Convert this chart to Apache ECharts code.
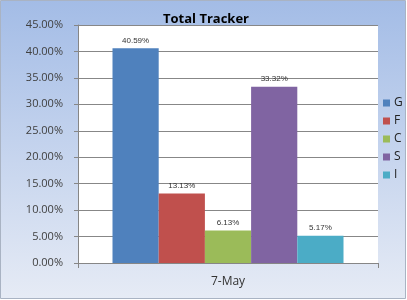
<!DOCTYPE html>
<html><head><meta charset="utf-8">
<script src="https://cdn.jsdelivr.net/npm/echarts@6/dist/echarts.min.js"></script>
<style>html,body{margin:0;padding:0;}#c{width:407px;height:300px;}</style>
</head><body><div id="c"></div>
<script>
const categories = ['7-May'];
const seriesNames = ['G', 'F', 'C', 'S', 'I'];
const seriesValues = [40.59, 13.13, 6.13, 33.32, 5.17];
const seriesColors = ['#4F81BD', '#C0504D', '#9BBB59', '#8064A2', '#4BACC6'];
const yTicks = { min: 0, max: 45, interval: 5 };

const chart = echarts.init(document.getElementById('c'), null, { renderer: 'canvas' });
const series = seriesNames.map((n, i) => ({
  name: n,
  type: 'bar',
  data: [seriesValues[i]],
  barGap: '0%',
  barCategoryGap: '23%',
  itemStyle: { color: seriesColors[i] },
  label: {
    show: true, position: 'top', distance: 4,
    formatter: p => p.value.toFixed(2) + '%',
    fontFamily: 'Liberation Sans', fontSize: 8, color: '#333'
  }
}));
chart.setOption({
  animation: false,
  graphic: [{
    type: 'rect', z: -10, silent: true,
    shape: { x: 0.5, y: 0.5, width: 405, height: 298 },
    style: {
      fill: new echarts.graphic.LinearGradient(0, 0, 0, 1, [
        { offset: 0, color: '#a3bce6' },
        { offset: 1, color: '#e6ebf5' }
      ]),
      stroke: '#a9b3c3', lineWidth: 1
    }
  }],
  title: {
    text: 'Total Tracker', left: 201, textAlign: 'center', top: 8,
    textStyle: { fontFamily: 'Open Sans', fontWeight: 'bold', fontSize: 13, color: '#000' }
  },
  legend: {
    orient: 'vertical', left: 383, top: 97, itemGap: 6, padding: 0,
    itemWidth: 7, itemHeight: 7, icon: 'rect',
    textStyle: { fontFamily: 'Open Sans', fontSize: 12, color: '#222', padding: [0, 0, 0, -1] },
    data: seriesNames
  },
  grid: { left: 78, right: 29, top: 25, bottom: 37, containLabel: false,
    show: true, backgroundColor: '#fff', borderWidth: 0 },
  xAxis: {
    type: 'category', data: categories,
    axisLine: { lineStyle: { color: '#868686' } },
    axisTick: { show: true, alignWithLabel: false, length: 5, lineStyle: { color: '#868686' } },
    axisLabel: { fontFamily: 'Open Sans', fontSize: 12, color: '#333', margin: 13 }
  },
  yAxis: {
    type: 'value', min: yTicks.min, max: yTicks.max, interval: yTicks.interval,
    axisLine: { show: true, lineStyle: { color: '#868686' } },
    axisTick: { show: true, length: 4, inside: false, lineStyle: { color: '#868686' } },
    splitLine: { lineStyle: { color: '#878787' } },
    axisLabel: { fontFamily: 'Open Sans', fontSize: 11, color: '#404040', margin: 15,
      formatter: v => v.toFixed(2) + '%' }
  },
  series: series
});
</script></body></html>
